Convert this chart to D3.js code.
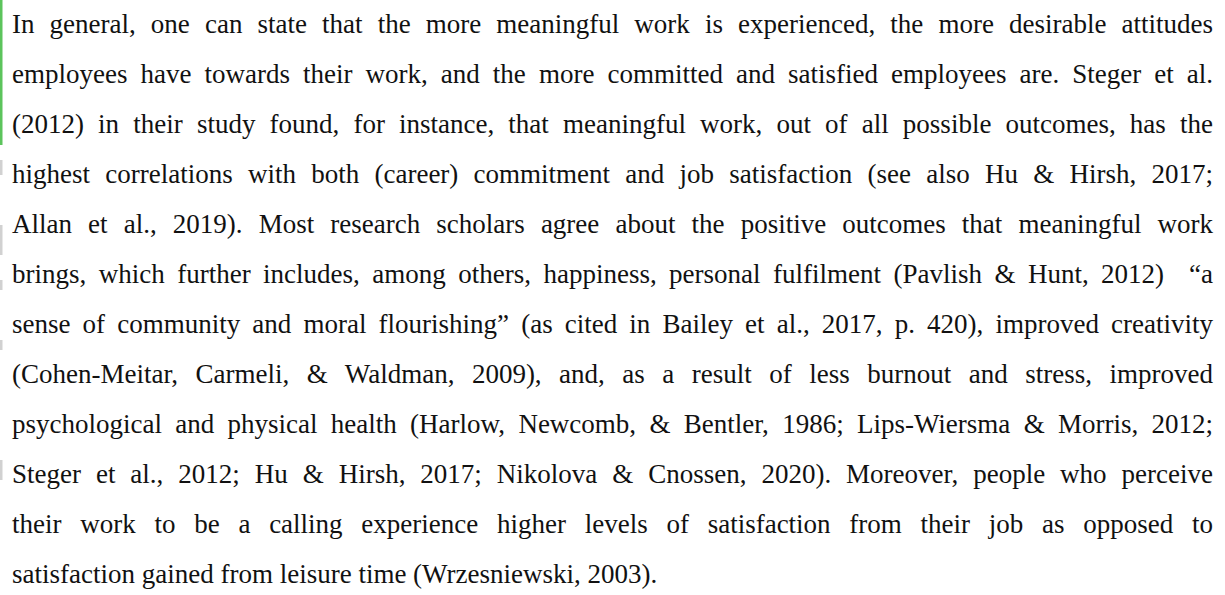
<!DOCTYPE html>
<html>
<head>
<meta charset="utf-8">
<script src="https://cdn.jsdelivr.net/npm/d3@7"></script>
<style>
  html, body { margin: 0; padding: 0; background: #fff; }
  svg { display: block; }
</style>
</head>
<body>
<div id="page"></div>
<script>
// paragraph lines, as broken in the reference
const lines = [
  "In general, one can state that the more meaningful work is experienced, the more desirable attitudes",
  "employees have towards their work, and the more committed and satisfied employees are. Steger et al.",
  "(2012) in their study found, for instance, that meaningful work, out of all possible outcomes, has the",
  "highest correlations with both (career) commitment and job satisfaction (see also Hu & Hirsh, 2017;",
  "Allan et al., 2019). Most research scholars agree about the positive outcomes that meaningful work",
  "brings, which further includes, among others, happiness, personal fulfilment (Pavlish & Hunt, 2012)  \u201ca",
  "sense of community and moral flourishing\u201d (as cited in Bailey et al., 2017, p. 420), improved creativity",
  "(Cohen-Meitar, Carmeli, & Waldman, 2009), and, as a result of less burnout and stress, improved",
  "psychological and physical health (Harlow, Newcomb, & Bentler, 1986; Lips-Wiersma & Morris, 2012;",
  "Steger et al., 2012; Hu & Hirsh, 2017; Nikolova & Cnossen, 2020). Moreover, people who perceive",
  "their work to be a calling experience higher levels of satisfaction from their job as opposed to",
  "satisfaction gained from leisure time (Wrzesniewski, 2003)."
];

// change bars on the left margin, in units of line index
const greenBar = [[0, 2.9]];
const grayBar = [[3.2, 3.5], [4.5, 5.1], [5.6, 5.8], [6.8, 7.0], [9.2, 9.6]];

const W = 1225, H = 595;
const left = 12, right = 1213;
const fontSize = 27;

const svg = d3.select("#page").append("svg")
  .attr("width", W).attr("height", H);

const yScale = d3.scaleLinear().domain([0, 1]).range([33, 83]);
const barScale = d3.scaleLinear().domain([0, 1]).range([0, 50]);

svg.selectAll(".gbar").data(greenBar).enter().append("rect")
  .attr("class", "gbar")
  .attr("x", 0).attr("width", 2.5)
  .attr("y", d => barScale(d[0]))
  .attr("height", d => barScale(d[1]) - barScale(d[0]))
  .attr("fill", "#5cc45c");

svg.selectAll(".rbar").data(grayBar).enter().append("rect")
  .attr("class", "rbar")
  .attr("x", 0).attr("width", 2.5)
  .attr("y", d => barScale(d[0]))
  .attr("height", d => barScale(d[1]) - barScale(d[0]))
  .attr("fill", "#9a9a9a")
  .attr("opacity", 0.45);

const txt = svg.selectAll(".line").data(lines).enter().append("text")
  .attr("class", "line")
  .attr("x", left)
  .attr("y", (d, i) => yScale(i))
  .attr("font-family", "'Liberation Serif', 'Times New Roman', serif")
  .attr("font-size", fontSize)
  .attr("fill", "#111")
  .style("white-space", "pre")
  .text(d => d);

// justify all but the last line by spreading extra width across the spaces
txt.each(function (d, i) {
  if (i === lines.length - 1) return;
  const natural = this.getComputedTextLength();
  const gaps = (d.match(/ /g) || []).length;
  if (!gaps) return;
  const extra = (right - left - natural) / gaps;
  d3.select(this).attr("word-spacing", extra);
});
</script>
</body>
</html>
